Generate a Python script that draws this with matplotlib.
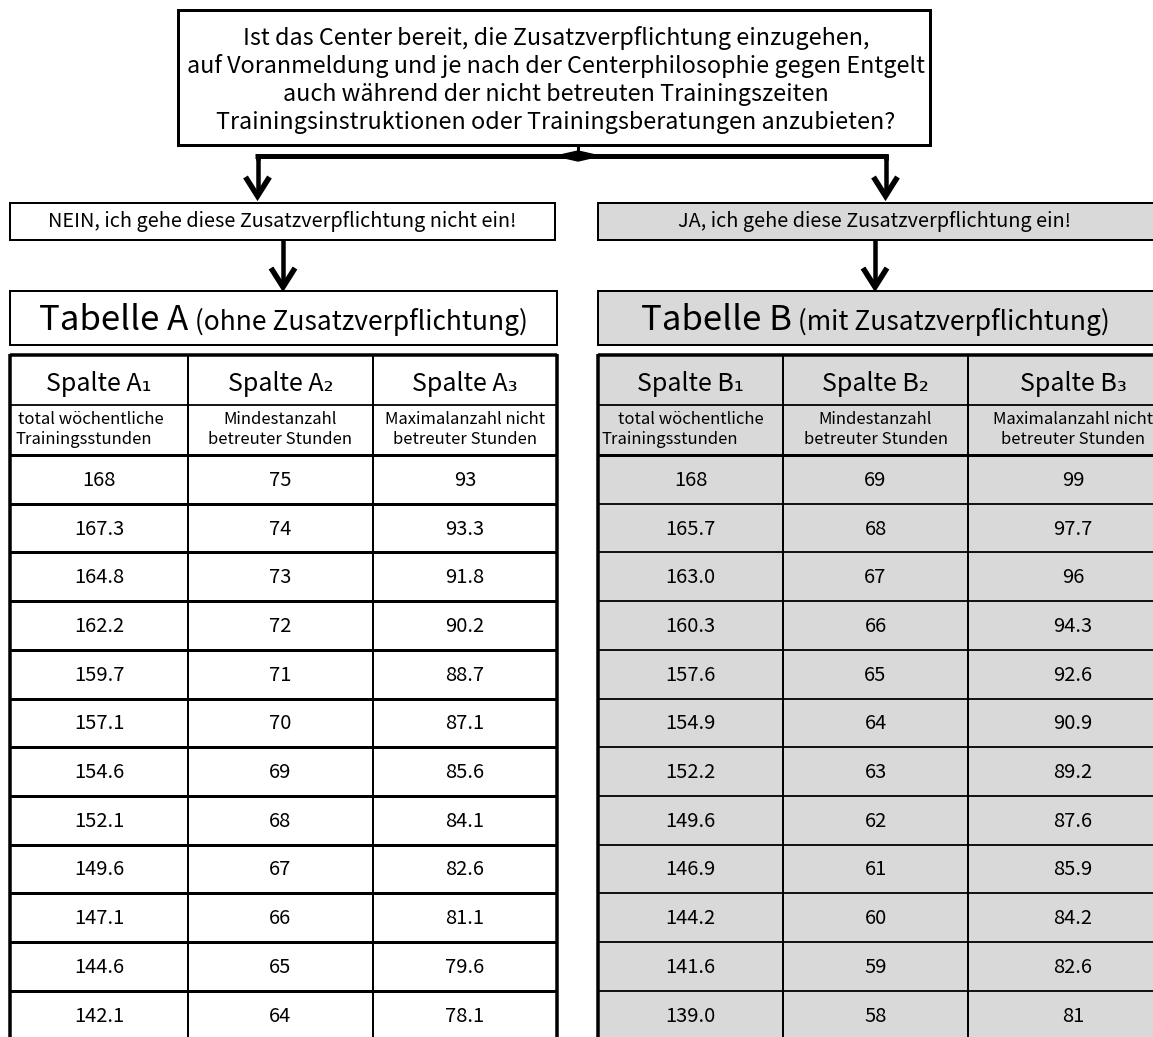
import matplotlib
matplotlib.use("Agg")
import matplotlib.pyplot as plt
from matplotlib.patches import Rectangle, Polygon

# ---------------- data ----------------
question_lines = [
    "Ist das Center bereit, die Zusatzverpflichtung einzugehen,",
    "auf Voranmeldung und je nach der Centerphilosophie gegen Entgelt",
    "auch während der nicht betreuten Trainingszeiten",
    "Trainingsinstruktionen oder Trainingsberatungen anzubieten?",
]
no_label = "NEIN, ich gehe diese Zusatzverpflichtung nicht ein!"
yes_label = "JA, ich gehe diese Zusatzverpflichtung ein!"
title_a = ["Tabelle A", "(ohne Zusatzverpflichtung)"]
title_b = ["Tabelle B", "(mit Zusatzverpflichtung)"]
cols_a = ["Spalte A₁", "Spalte A₂", "Spalte A₃"]
cols_b = ["Spalte B₁", "Spalte B₂", "Spalte B₃"]
col_desc = [["total wöchentliche", "Trainingsstunden"],
            ["Mindestanzahl", "betreuter Stunden"],
            ["Maximalanzahl nicht", "betreuter Stunden"]]
a1 = ["168", "167.3", "164.8", "162.2", "159.7", "157.1", "154.6", "152.1", "149.6", "147.1", "144.6", "142.1"]
a2 = ["75", "74", "73", "72", "71", "70", "69", "68", "67", "66", "65", "64"]
a3 = ["93", "93.3", "91.8", "90.2", "88.7", "87.1", "85.6", "84.1", "82.6", "81.1", "79.6", "78.1"]
b1 = ["168", "165.7", "163.0", "160.3", "157.6", "154.9", "152.2", "149.6", "146.9", "144.2", "141.6", "139.0"]
b2 = ["69", "68", "67", "66", "65", "64", "63", "62", "61", "60", "59", "58"]
b3 = ["99", "97.7", "96", "94.3", "92.6", "90.9", "89.2", "87.6", "85.9", "84.2", "82.6", "81"]

FONT = ["Noto Sans CJK KR", "DejaVu Sans"]
plt.rcParams["font.family"] = FONT
GRAY = "#d9d9d9"
PX = 0.72  # points per pixel at dpi 100

W, H = 1153, 1037
fig = plt.figure(figsize=(W / 100, H / 100), dpi=100)
ax = fig.add_axes([0, 0, 1, 1])
ax.set_xlim(0, W)
ax.set_ylim(H, 0)
ax.axis("off")
renderer = fig.canvas.get_renderer()


def box(x0, y0, x1, y1, lw, fc="white"):
    ax.add_patch(Rectangle((x0, y0), x1 - x0, y1 - y0, facecolor=fc,
                           edgecolor="black", linewidth=lw * PX, zorder=2))


def line(xs, ys, lw, z=3):
    ax.plot(xs, ys, color="black", linewidth=lw * PX, solid_capstyle="butt", zorder=z)


def arrow(x, y0, y1):
    line([x, x], [y0, y1 - 2], 4.5)
    # chevron head
    ax.plot([x - 12, x, x + 12], [y1 - 19, y1, y1 - 19], color="black",
            linewidth=5.5 * PX, solid_joinstyle="miter", solid_capstyle="butt", zorder=3)


# ---------------- question box ----------------
box(178, 10, 930, 145, 3)
qy = [38, 66, 94, 122]
for t, y in zip(question_lines, qy):
    ax.text(556, y, t, ha="center", va="center", fontsize=16.8, zorder=4)

# connector
jx = 578
line([jx, jx], [145, 156], 3)
line([255, 888], [156, 156], 5)
ax.add_patch(Polygon([[jx - 22, 156], [jx, 151], [jx + 22, 156], [jx, 161]],
                     closed=True, facecolor="black", edgecolor="black", zorder=3))
line([257.5, 257.5], [154, 160], 5)
line([885.5, 885.5], [154, 160], 5)
arrow(257.5, 156, 196)
arrow(885.5, 156, 196)

# ---------------- yes / no boxes ----------------
box(10, 203, 555, 240, 2)
ax.text(282, 222, no_label, ha="center", va="center", fontsize=14.3, zorder=4)
box(598, 203, 1170, 240, 2, GRAY)
ax.text(875, 222, yes_label, ha="center", va="center", fontsize=14.3, zorder=4)
arrow(283, 240, 287)
arrow(875, 240, 287)


def title(parts, x0, x1, y, fc):
    box(x0, 291, x1, 345, 2, fc)
    sizes = [25, 19]
    texts = [ax.text(0, y, parts[0], fontsize=sizes[0], va="baseline"),
             ax.text(0, y, " " + parts[1], fontsize=sizes[1], va="baseline")]
    ws = [t.get_window_extent(renderer).width for t in texts]
    total = sum(ws)
    cx = (x0 + min(x1, W)) / 2
    start = cx - total / 2
    texts[0].set_x(start)
    texts[1].set_x(start + ws[0])
    for t in texts:
        t.set_zorder(4)


title(title_a, 10, 557, 330, "white")
title(title_b, 598, 1170, 330, GRAY)

# ---------------- tables ----------------
TOP = 355
HDR1 = 405
HDR2 = 455
ROWH = 48.7


def table(x0, widths, heads, cols, fc, thick_rows, right_border, first_left):
    xs = [x0]
    for w in widths:
        xs.append(xs[-1] + w)
    nrows = len(cols[0])
    bottom = HDR2 + nrows * ROWH
    ax.add_patch(Rectangle((x0, TOP), xs[-1] - x0, bottom - TOP + 20,
                           facecolor=fc, edgecolor="none", zorder=1))
    for j in range(3):
        cx = (xs[j] + xs[j + 1]) / 2
        ax.text(cx, (TOP + HDR1) / 2 + 4, heads[j], ha="center", va="center",
                fontsize=18, zorder=4)
        for k, (txt, yy) in enumerate(zip(col_desc[j], [420, 440])):
            if j == 0 and first_left[k]:
                ax.text(xs[0] + first_left[k], yy, txt, ha="left", va="center",
                        fontsize=12, zorder=4)
            else:
                ax.text(cx, yy, txt, ha="center", va="center",
                        fontsize=12, zorder=4)
        for i, v in enumerate(cols[j]):
            ax.text(cx, HDR2 + (i + 0.5) * ROWH + 1, v, ha="center", va="center",
                    fontsize=14.5, zorder=4)
    # horizontal lines
    line([x0, xs[-1]], [TOP, TOP], 3.5)
    line([x0, xs[-1]], [HDR1, HDR1], 1.8)
    line([x0, xs[-1]], [HDR2, HDR2], 3)
    for i in range(1, nrows + 1):
        line([x0, xs[-1]], [HDR2 + i * ROWH] * 2, 3 if thick_rows else 1.8)
    # vertical lines
    line([x0, x0], [TOP - 1.5, H + 10], 3.5)
    for xv in xs[1:-1]:
        line([xv, xv], [TOP, H + 10], 2)
    if right_border:
        line([xs[-1], xs[-1]], [TOP - 1.5, H + 10], 3.5)


table(10, [178, 185, 184], cols_a, [a1, a2, a3], "white", True, True, [8, 5])
table(598, [185, 185, 210], cols_b, [b1, b2, b3], GRAY, False, False, [0, 4])

fig.savefig("out.png", dpi=100)
